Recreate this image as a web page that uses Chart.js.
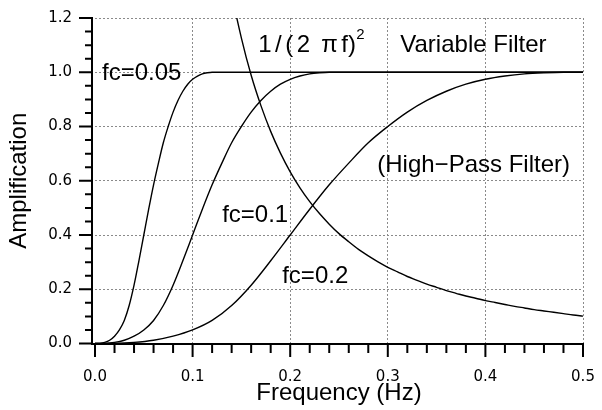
<!DOCTYPE html>
<html>
<head>
<meta charset="utf-8">
<script src="https://cdn.jsdelivr.net/npm/chart.js@4/dist/chart.umd.min.js"></script>
<style>
  html, body { margin: 0; padding: 0; background: #fff; }
  #wrap { width: 602px; height: 410px; position: relative; }
</style>
</head>
<body>
<div id="wrap"><canvas id="c" width="602" height="410"></canvas></div>
<script>
// ---- data ----
const freq05 = [0, 0.005, 0.01, 0.015, 0.02, 0.025, 0.03, 0.035, 0.04, 0.045, 0.05, 0.055, 0.06, 0.065, 0.07, 0.075, 0.08, 0.085, 0.09, 0.095, 0.1, 0.105, 0.11, 0.115, 0.12, 0.5];
const amp05  = [0, 0.0005, 0.004, 0.012, 0.027, 0.05, 0.085, 0.14, 0.215, 0.305, 0.40, 0.495, 0.585, 0.665, 0.74, 0.80, 0.853, 0.896, 0.93, 0.956, 0.974, 0.986, 0.994, 0.998, 1.0, 1.0];

const freq10 = [0, 0.01, 0.02, 0.03, 0.04, 0.05, 0.06, 0.07, 0.08, 0.09, 0.1, 0.11, 0.12, 0.13, 0.14, 0.15, 0.16, 0.17, 0.18, 0.19, 0.2, 0.21, 0.22, 0.23, 0.24, 0.5];
const amp10  = [0, 0.0005, 0.004, 0.012, 0.027, 0.05, 0.085, 0.14, 0.215, 0.305, 0.40, 0.495, 0.585, 0.665, 0.74, 0.80, 0.853, 0.896, 0.93, 0.956, 0.974, 0.986, 0.994, 0.998, 1.0, 1.0];

const freq20 = [0, 0.02, 0.04, 0.06, 0.08, 0.1, 0.12, 0.14, 0.16, 0.18, 0.2, 0.22, 0.24, 0.26, 0.28, 0.3, 0.32, 0.34, 0.36, 0.38, 0.4, 0.42, 0.44, 0.46, 0.48, 0.5];
const amp20  = [0, 0.0005, 0.004, 0.012, 0.027, 0.05, 0.085, 0.14, 0.215, 0.305, 0.40, 0.495, 0.585, 0.665, 0.74, 0.80, 0.853, 0.896, 0.93, 0.956, 0.974, 0.986, 0.994, 0.998, 1.0, 1.0];

const freqInv = [0.13, 0.14, 0.15, 0.16, 0.17, 0.18, 0.19, 0.2, 0.21, 0.22, 0.23, 0.24, 0.25, 0.26, 0.27, 0.28, 0.29, 0.3, 0.31, 0.32, 0.33, 0.34, 0.35, 0.36, 0.37, 0.38, 0.39, 0.4, 0.41, 0.42, 0.43, 0.44, 0.45, 0.46, 0.47, 0.48, 0.49, 0.5];
const ampInv  = [1.499, 1.292, 1.126, 0.989, 0.877, 0.782, 0.702, 0.633, 0.574, 0.523, 0.479, 0.440, 0.405, 0.375, 0.347, 0.323, 0.301, 0.281, 0.264, 0.247, 0.233, 0.219, 0.207, 0.195, 0.185, 0.175, 0.167, 0.158, 0.151, 0.144, 0.137, 0.131, 0.125, 0.120, 0.115, 0.110, 0.105, 0.101];

const xTickValues = [0, 0.1, 0.2, 0.3, 0.4, 0.5];
const yTickValues = [0, 0.2, 0.4, 0.6, 0.8, 1.0, 1.2];

const xTitle = 'Frequency (Hz)';
const yTitle = 'Amplification';

// ---- build ----
const pts = (xs, ys) => xs.map((x, i) => ({ x: x, y: ys[i] }));
const lineStyle = {
  borderColor: '#000', borderWidth: 1.4, pointRadius: 0, fill: false,
  cubicInterpolationMode: 'monotone'
};

const FONT = "'Liberation Sans', Arial, sans-serif";
const TICKFONT = "'DejaVu Sans', sans-serif";

const annotations = [
  { text: 'fc=0.05', x: 0.0072, y: 0.972 },
  { text: '1/(2', x: 0.1672, y: 1.076, spacing: 3.5 },
  { text: 'π', x: 0.2318, y: 1.076 },
  { text: 'f)', x: 0.2523, y: 1.076 },
  { text: '2', x: 0.2677, y: 1.124, size: 15 },
  { text: 'Variable Filter', x: 0.3128, y: 1.076 },
  { text: '(High\u2212Pass Filter)', x: 0.2892, y: 0.6315 },
  { text: 'fc=0.1', x: 0.1303, y: 0.4463 },
  { text: 'fc=0.2', x: 0.1918, y: 0.2241 }
];

const axesPlugin = {
  id: 'axesPlugin',
  afterDraw(chart) {
    const ctx = chart.ctx;
    const xs = chart.scales.x, ys = chart.scales.y;
    const x0 = xs.getPixelForValue(0), x1 = xs.getPixelForValue(0.5);
    const y0 = ys.getPixelForValue(0), y1 = ys.getPixelForValue(1.2);
    const axX = x0 - 3;
    const axY = y0 + 0.5;
    ctx.save();
    ctx.strokeStyle = '#000';
    ctx.lineWidth = 2;
    ctx.lineCap = 'butt';
    ctx.beginPath();
    ctx.moveTo(axX, y1 - 1); ctx.lineTo(axX, axY + 1);
    ctx.moveTo(axX - 1, axY); ctx.lineTo(x1 + 1, axY);
    for (let i = 0; i <= 24; i++) {
      const p = ys.getPixelForValue(i * 0.05);
      const len = (i % 4 === 0) ? 13 : 7;
      ctx.moveTo(axX, p); ctx.lineTo(axX - len, p);
    }
    for (let i = 0; i <= 25; i++) {
      const p = xs.getPixelForValue(i * 0.02);
      const len = (i % 5 === 0) ? 13 : 9;
      ctx.moveTo(p, axY); ctx.lineTo(p, axY + len);
    }
    ctx.stroke();

    ctx.fillStyle = '#000';
    ctx.textBaseline = 'alphabetic';
    ctx.textAlign = 'left';
    annotations.forEach(a => {
      ctx.font = (a.size || 24) + 'px ' + FONT;
      if ('letterSpacing' in ctx) ctx.letterSpacing = (a.spacing || 0) + 'px';
      ctx.fillText(a.text, xs.getPixelForValue(a.x), ys.getPixelForValue(a.y));
    });
    if ('letterSpacing' in ctx) ctx.letterSpacing = '0px';
    ctx.restore();
  }
};

const gridColor = c => (c.tick && Math.abs(c.tick.value) < 1e-9) ? 'rgba(0,0,0,0)' : '#8a8a8a';
const noPad = s => { s.paddingLeft = 0; s.paddingRight = 0; s.paddingTop = 0; s.paddingBottom = 0; };

new Chart(document.getElementById('c'), {
  type: 'line',
  data: {
    datasets: [
      Object.assign({ label: 'fc=0.05', data: pts(freq05, amp05) }, lineStyle),
      Object.assign({ label: 'fc=0.1', data: pts(freq10, amp10) }, lineStyle),
      Object.assign({ label: 'fc=0.2', data: pts(freq20, amp20) }, lineStyle),
      Object.assign({ label: '1/(2πf)^2', data: pts(freqInv, ampInv) }, lineStyle)
    ]
  },
  options: {
    responsive: false,
    animation: false,
    events: [],
    layout: { padding: { top: 18, right: 19, bottom: 0, left: 0 } },
    plugins: { legend: { display: false }, tooltip: { enabled: false } },
    scales: {
      x: {
        type: 'linear', min: 0, max: 0.5,
        afterBuildTicks: s => { s.ticks = xTickValues.map(v => ({ value: v })); },
        afterFit: s => { s.height = 66.5; noPad(s); },
        grid: { color: gridColor, lineWidth: 1, drawTicks: false },
        border: { display: false, dash: [2, 2] },
        ticks: {
          padding: 25, color: '#000', maxRotation: 0, autoSkip: false,
          font: { family: TICKFONT, size: 15 },
          callback: v => Number(v).toFixed(1)
        },
        title: {
          display: true, text: xTitle, color: '#000',
          font: { family: FONT, size: 24 }, padding: { top: 0, bottom: 2 }
        }
      },
      y: {
        type: 'linear', min: 0, max: 1.2,
        afterBuildTicks: s => { s.ticks = yTickValues.map(v => ({ value: v })); },
        afterFit: s => { s.width = 95; noPad(s); },
        grid: { color: gridColor, lineWidth: 1, drawTicks: false },
        border: { display: false, dash: [2, 2] },
        ticks: {
          padding: 23, color: '#000', autoSkip: false,
          font: { family: TICKFONT, size: 15 },
          callback: v => Number(v).toFixed(1)
        },
        title: {
          display: true, text: yTitle, color: '#000',
          font: { family: FONT, size: 24 }, padding: { top: 5, bottom: 0 }
        }
      }
    }
  },
  plugins: [axesPlugin]
});
</script>
</body>
</html>
